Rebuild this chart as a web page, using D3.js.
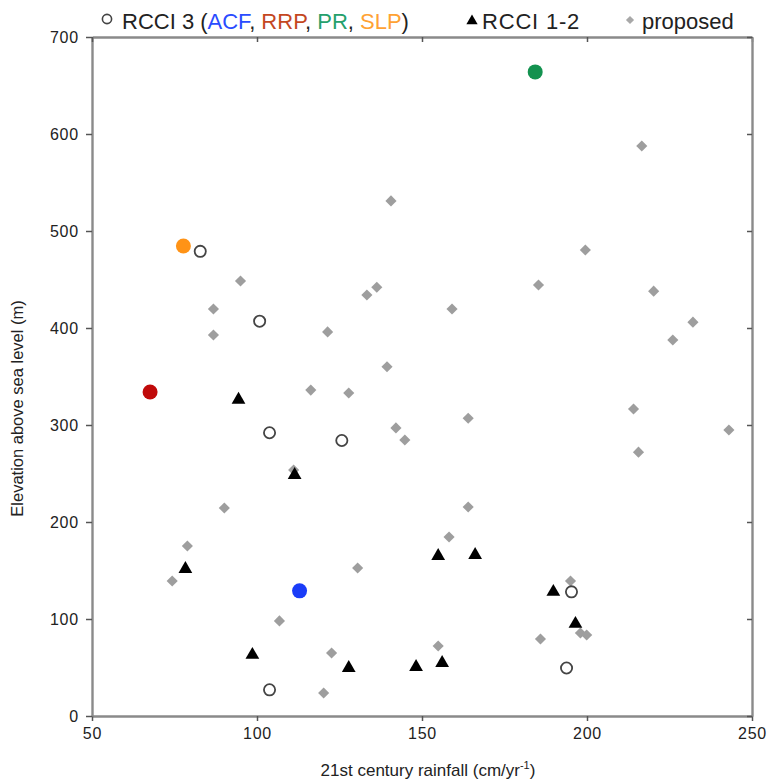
<!DOCTYPE html>
<meta charset="utf-8">
<script src="https://d3js.org/d3.v7.min.js"></script>
<style>
body { margin: 0; background: #fff; font-family: "Liberation Sans", Arial, sans-serif; }
.axis-title { font-family: "Liberation Sans Narrow", "Liberation Sans", sans-serif; fill: #222; }
.tick text { font-family: "Liberation Sans", Arial, sans-serif; font-size: 16px; letter-spacing: 0.8px; fill: #222; }
.legend text { font-size: 22px; fill: #222; }
</style>
<div id="chart"></div>
<script>

// RCCI 3 sites without a highlight (open circles): [rainfall, elevation]
var rcci3 = [[82.8, 479], [100.8, 407], [103.8, 292], [125.7, 284], [195.3, 128], [193.8, 49.5], [103.8, 27]];

// highlighted RCCI 3 sites
var rcci3Named = ["ACF", "RRP", "PR", "SLP"];
var rcci3NamedPts = [[112.9, 129], [67.6, 334], [184.3, 664], [77.7, 484.5]];
var namedColors = ["#1a3cf8", "#c00a0a", "#13924f", "#ff9316"];
var legendColors = ["#2a4cff", "#c4471f", "#25a06c", "#ffa233"];

// RCCI 1-2 sites (triangles)
var rcci12 = [[94.4, 326], [111.4, 248.5], [78.3, 151.5], [98.6, 63], [127.8, 49.5], [148.2, 50.5],
  [156.1, 54.6], [154.9, 165], [166.1, 166], [189.8, 128], [196.5, 95]];

// proposed sites (diamonds)
var proposed = [[95, 448.5], [86.8, 419.6], [86.8, 392.8], [121.4, 396], [116.3, 336], [111.1, 253.6],
  [140.6, 531], [136.3, 442], [133.3, 434], [159.1, 419.6], [139.4, 360], [127.8, 333],
  [142.1, 297], [144.8, 284.5], [164, 307],
  [216.6, 587.6], [199.5, 480.4], [185.3, 444.3], [220.2, 438], [232.1, 406], [226, 387.6],
  [214.1, 316.5], [243, 294.8], [215.6, 272],
  [90.1, 214.4], [78.9, 175.3], [74.3, 139.2], [130.5, 152.6], [106.8, 98], [122.6, 65], [120.2, 23.7],
  [164, 215.5], [158.2, 184.5], [195, 139.2], [185.9, 79.4], [198, 85.6], [199.9, 83.5], [154.9, 72.2]];

var xTicks = [50, 100, 150, 200, 250];
var yTicks = [0, 100, 200, 300, 400, 500, 600, 700];

var margin = {top: 37, right: 16, bottom: 66, left: 92},
    width = 768 - margin.left - margin.right,
    height = 782 - margin.top - margin.bottom;

var svg = d3.select("#chart")
  .append("svg")
    .attr("width", 768)
    .attr("height", 782)
  .append("g")
    .attr("transform", "translate(" + margin.left + "," + margin.top + ")");

var x = d3.scaleLinear().domain([50, 250]).range([0, width]);
var y = d3.scaleLinear().domain([0, 700]).range([height, 0]);

var axisColor = "#8a8a8a";

function styleAxis(g, noText) {
  g.select(".domain").attr("stroke", axisColor).attr("stroke-width", 2.4);
  g.selectAll(".tick line").attr("stroke", "#555").attr("stroke-width", 1.5);
  if (noText) g.selectAll(".tick text").remove();
}

// bottom + left: outward ticks with labels
svg.append("g")
  .attr("transform", "translate(0," + height + ")")
  .call(d3.axisBottom(x).tickValues(xTicks).tickSize(5).tickSizeOuter(0).tickPadding(7))
  .call(styleAxis);
svg.append("g")
  .call(d3.axisLeft(y).tickValues(yTicks).tickSize(6).tickSizeOuter(0).tickPadding(7))
  .call(styleAxis);
// top + right: inward ticks, no labels
svg.append("g")
  .call(d3.axisBottom(x).tickValues(xTicks).tickSize(5).tickSizeOuter(0))
  .call(function(g) { styleAxis(g, true); });
svg.append("g")
  .attr("transform", "translate(" + width + ",0)")
  .call(d3.axisLeft(y).tickValues(yTicks).tickSize(5).tickSizeOuter(0))
  .call(function(g) { styleAxis(g, true); });

// axis titles
var xt = svg.append("text")
  .attr("class", "axis-title")
  .attr("font-size", 17)
  .attr("x", width / 2 + 6)
  .attr("y", height + 60)
  .attr("text-anchor", "middle")
  .text("21st century rainfall (cm/yr");
xt.append("tspan").attr("dy", -7).attr("font-size", 11).text("-1");
xt.append("tspan").attr("dy", 7).text(")");

svg.append("text")
  .attr("class", "axis-title")
  .attr("font-size", 16.5)
  .attr("transform", "translate(" + (-69) + "," + (height / 2 + 32) + ") rotate(-90)")
  .attr("text-anchor", "middle")
  .text("Elevation above sea level (m)");

var diamond = d3.symbol().type(d3.symbolSquare).size(62);
var triangle = d3.symbol().type(d3.symbolTriangle).size(82);

// proposed
svg.append("g").selectAll("path")
  .data(proposed)
  .enter().append("path")
    .attr("d", diamond)
    .attr("transform", function(d) { return "translate(" + x(d[0]) + "," + y(d[1]) + ") rotate(45)"; })
    .attr("fill", "#9e9e9e");

// RCCI 1-2
svg.append("g").selectAll("path")
  .data(rcci12)
  .enter().append("path")
    .attr("d", triangle)
    .attr("transform", function(d) { return "translate(" + x(d[0]) + "," + y(d[1]) + ")"; })
    .attr("fill", "#000");

// RCCI 3 open
svg.append("g").selectAll("circle")
  .data(rcci3)
  .enter().append("circle")
    .attr("cx", function(d) { return x(d[0]); })
    .attr("cy", function(d) { return y(d[1]); })
    .attr("r", 5.6)
    .attr("fill", "#fff")
    .attr("stroke", "#444")
    .attr("stroke-width", 1.8);

// RCCI 3 highlighted
svg.append("g").selectAll("circle")
  .data(rcci3NamedPts)
  .enter().append("circle")
    .attr("cx", function(d) { return x(d[0]); })
    .attr("cy", function(d) { return y(d[1]); })
    .attr("r", 7.5)
    .attr("fill", function(d, i) { return namedColors[i]; });

// legend
var legend = svg.append("g").attr("class", "legend").attr("transform", "translate(0,-8)");
legend.append("circle")
  .attr("cx", 15).attr("cy", -10).attr("r", 4.6)
  .attr("fill", "#fff").attr("stroke", "#444").attr("stroke-width", 1.6);
var lt = legend.append("text").attr("x", 30).attr("y", 0);
lt.append("tspan").text("RCCI 3 (");
rcci3Named.forEach(function(n, i) {
  lt.append("tspan").attr("fill", legendColors[i]).text(n);
  if (i < rcci3Named.length - 1) lt.append("tspan").text(", ");
});
lt.append("tspan").text(")");

legend.append("path")
  .attr("d", d3.symbol().type(d3.symbolTriangle).size(55))
  .attr("transform", "translate(380,-8)")
  .attr("fill", "#000");
legend.append("text").attr("x", 390).attr("y", 0).attr("letter-spacing", 0.8).text("RCCI 1-2");

legend.append("path")
  .attr("d", d3.symbol().type(d3.symbolSquare).size(34))
  .attr("transform", "translate(538,-9) rotate(45)")
  .attr("fill", "#a8a8a8");
legend.append("text").attr("x", 550).attr("y", 0).text("proposed");

</script>
